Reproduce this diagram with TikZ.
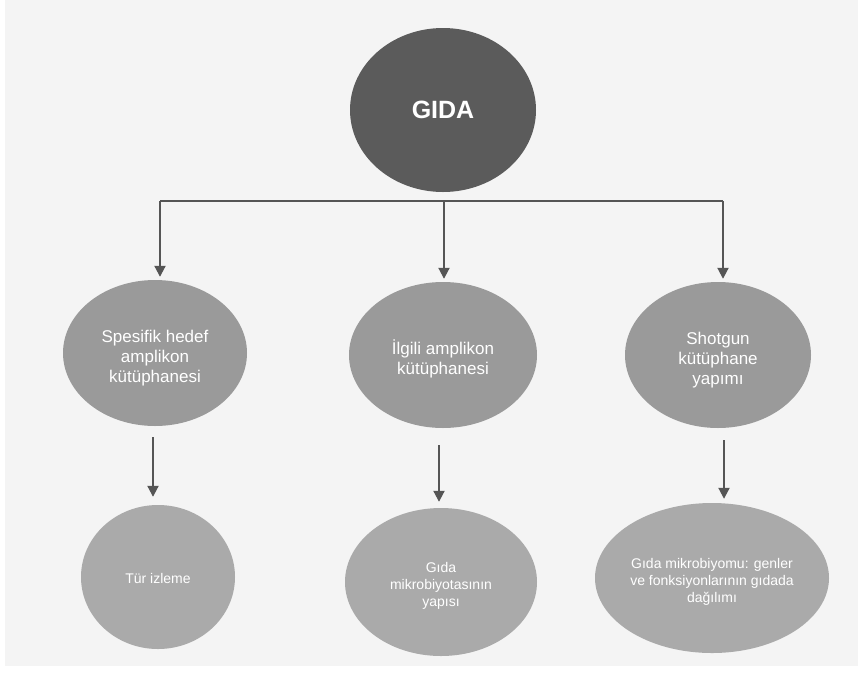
\documentclass[tikz,border=0pt]{standalone}
\usepackage{fontspec}
\setmainfont{Liberation Sans}
\usetikzlibrary{shapes.geometric,arrows.meta}
\definecolor{pagebg}{HTML}{F4F4F4}
\definecolor{rootfill}{HTML}{5B5B5B}
\definecolor{midfill}{HTML}{9A9A9A}
\definecolor{leaffill}{HTML}{AAAAAA}
\definecolor{linecol}{HTML}{555555}
\tikzset{
  rootnode/.style={ellipse, fill=rootfill, text=white, inner sep=0pt,
    minimum width=186pt, minimum height=164pt, font=\fontsize{25}{30}\selectfont\bfseries},
  midnode/.style={ellipse, fill=midfill, inner sep=0pt},
  midtext/.style={text=white, align=center, inner sep=0pt, font=\fontsize{17}{20}\selectfont},
  leafnode/.style={ellipse, fill=leaffill, inner sep=0pt},
  leaftext/.style={text=white, align=center, inner sep=0pt, font=\fontsize{14}{17}\selectfont},
  bus/.style={draw=linecol, line width=2pt},
  arr/.style={draw=linecol, line width=2pt, -{Triangle[width=11pt,length=11pt]}},
}
\begin{document}
\begin{tikzpicture}[x=1pt, y=-1pt]
  \useasboundingbox (0,0) rectangle (862,673);
  \fill[pagebg] (5,0) rectangle (858,666);

  % root
  \node[rootnode] (gida) at (443,110) {GIDA};

  % second level
  \node[midnode, minimum width=184pt, minimum height=146pt,
        label={[midtext, yshift=-5pt]center:{Spesifik hedef\\amplikon\\kütüphanesi}}]
        (hedef) at (155,353) {};
  \node[midnode, minimum width=188pt, minimum height=146pt,
        label={[midtext, yshift=-4pt]center:{İlgili amplikon\\kütüphanesi}}]
        (ilgili) at (443,355) {};
  \node[midnode, minimum width=186pt, minimum height=146pt,
        label={[midtext, yshift=-5pt]center:{Shotgun\\kütüphane\\yapımı}}]
        (shot) at (718,355) {};

  % third level
  \node[leafnode, minimum width=154pt, minimum height=144pt,
        label={[leaftext, yshift=-1pt]center:{Tür izleme}}]
        (tur) at (158,577) {};
  \node[leafnode, minimum width=192pt, minimum height=148pt,
        label={[leaftext, yshift=-4pt]center:{Gıda\\mikrobiyotasının\\yapısı}}]
        (yapi) at (441,582) {};
  \node[leafnode, minimum width=234pt, minimum height=150pt,
        label={[leaftext, yshift=-4pt]center:{Gıda mikrobiyomu: genler\\ve fonksiyonlarının gıdada\\dağılımı}}]
        (dagilim) at (712,578) {};

  % distribution bar below the root
  \coordinate (bl) at (160,201);
  \coordinate (bm) at (444,201);
  \coordinate (br) at (723,201);
  \draw[bus] (bl) -- (br);
  \draw[arr, shorten >=3pt] (bl) -- (bl |- hedef.north);
  \draw[arr, shorten >=3pt] (bm) -- (bm |- ilgili.north);
  \draw[arr, shorten >=3pt] (br) -- (br |- shot.north);

  % second to third level
  \coordinate (ca) at (153,0);
  \coordinate (cb) at (439,0);
  \coordinate (cc) at (724,0);
  \draw[arr, shorten <=11pt, shorten >=8pt] (ca |- hedef.south) -- (ca |- tur.north);
  \draw[arr, shorten <=17pt, shorten >=6pt] (cb |- ilgili.south) -- (cb |- yapi.north);
  \draw[arr, shorten <=12pt, shorten >=4pt] (cc |- shot.south) -- (cc |- dagilim.north);
\end{tikzpicture}
\end{document}
